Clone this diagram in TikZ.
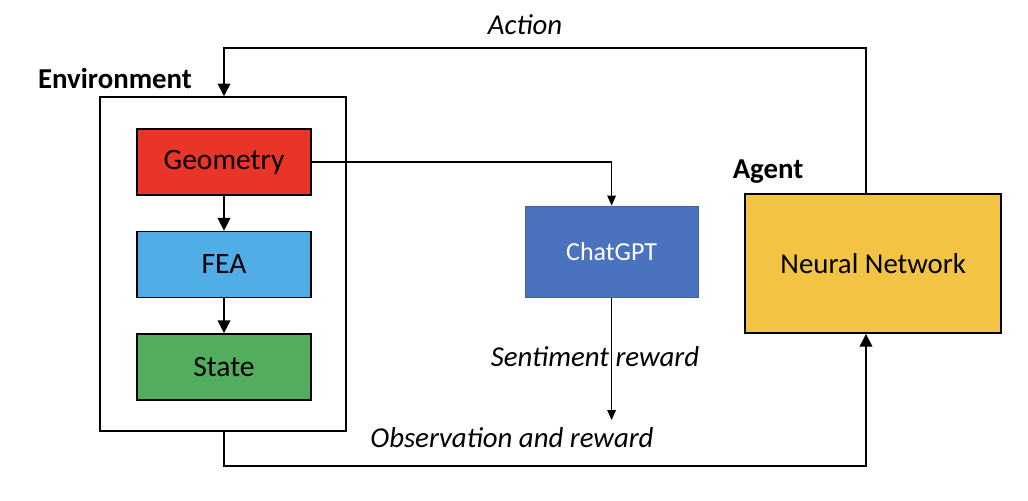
\documentclass[tikz,border=0pt]{standalone}
\usepackage{fontspec}
\setmainfont{Carlito}
\usepackage{xcolor}
\usepackage{tikz}
\usetikzlibrary{shapes.geometric, arrows}
\usetikzlibrary{arrows.meta}
\definecolor{geored}{RGB}{232,53,40}
\definecolor{feablue}{RGB}{80,173,230}
\definecolor{stategreen}{RGB}{82,174,92}
\definecolor{gptblue}{RGB}{74,114,190}
\definecolor{nnyellow}{RGB}{243,196,67}
\tikzstyle{block} = [rectangle, minimum width=4.35cm, minimum height=1.65cm, text centered, draw=black, line width=1.1pt, font=\fontsize{21}{25}\selectfont]
\tikzstyle{arrow} = [line width=1.1pt,-{Triangle[width=9pt,length=9pt]}]
\tikzstyle{thinarrow} = [line width=1pt,-{Triangle[width=6pt,length=7pt]}]
\tikzstyle{label} = [font=\fontsize{20.5}{24}\selectfont\itshape]

\begin{document}
\begin{tikzpicture}[node distance=2.56cm]
                    \useasboundingbox (0,0) rectangle (25.7,12.5);
                    \node (env) [rectangle, draw=black, line width=1.1pt, minimum width=6.15cm, minimum height=8.35cm] at (5.58, 5.9) {};
                    \node (geo) [block, fill=geored] at (5.6, 8.45) {Geometry};
                    \node (fea) [block, fill=feablue, below of=geo] {FEA};
                    \node (state) [block, fill=stategreen, below of=fea] {State};
                    \node (gpt) [rectangle, fill=gptblue, draw=gptblue!85!black, line width=0.6pt, minimum width=4.33cm, minimum height=2.28cm, text=white, font=\fontsize{18.5}{22}\selectfont] at (15.29, 6.21) {ChatGPT};
                    \node (nn) [block, fill=nnyellow, minimum width=6.4cm, minimum height=3.48cm, font=\fontsize{20.5}{24}\selectfont] at (21.83, 5.91) {Neural Network};

                    \node (envlabel) at (2.875, 10.55) {\fontsize{20.5}{24}\selectfont\bfseries Environment};
                    \node (agentlabel) at (19.2, 8.2) {\fontsize{20.5}{24}\selectfont\bfseries Agent};
                    \node (action) [label] at (13.125, 11.875) {Action};
                    \node (sentiment) [label] at (14.875, 3.575) {Sentiment reward};
                    \node (observation) [label] at (12.8, 1.55) {Observation and reward};

                    \coordinate (topleft) at (5.6, 11.3);
                    \coordinate (botleft) at (5.6, 0.85);
                    \coordinate (sentend) at (15.29, 2.0);

                    \draw[arrow] (geo) -- (fea);
                    \draw[arrow] (fea) -- (state);
                    \draw[thinarrow] (geo.east) -| (gpt.north);
                    \draw[thinarrow] (gpt.south) -- (sentend);
                    \draw[arrow] ([xshift=-0.18cm]nn.north) |- (topleft) -- (env.north -| topleft);
                    \draw[arrow] (env.south -| botleft) -- (botleft) -| ([xshift=-0.18cm]nn.south);
                \end{tikzpicture}
\end{document}
